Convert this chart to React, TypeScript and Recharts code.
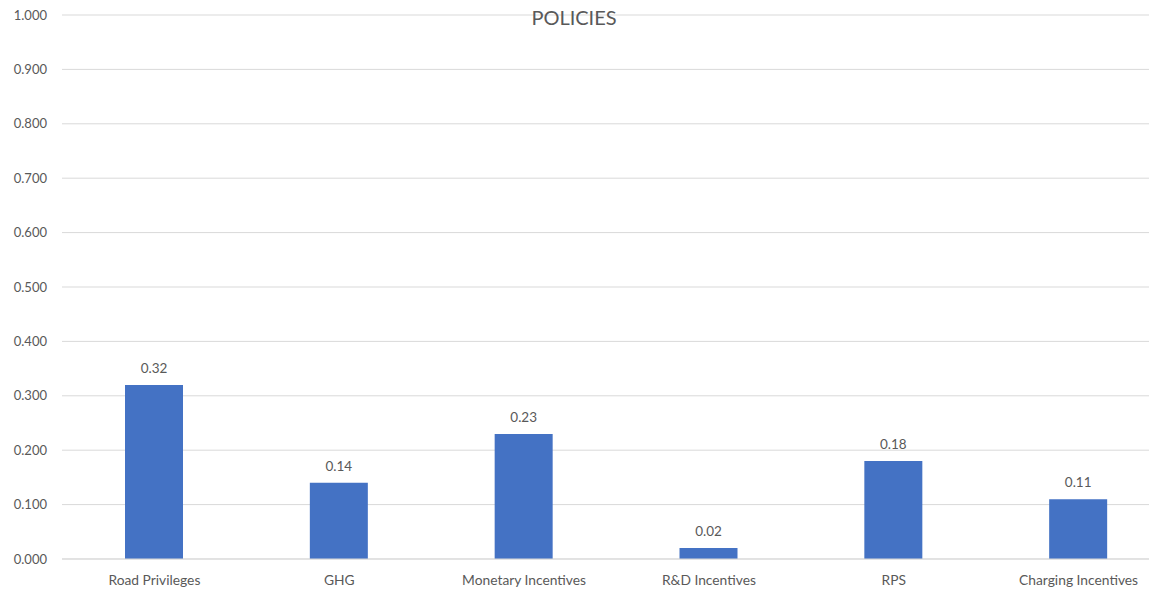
import { BarChart, Bar, XAxis, YAxis, CartesianGrid, LabelList } from 'recharts';

const policies = ['Road Privileges', 'GHG', 'Monetary Incentives', 'R&D Incentives', 'RPS', 'Charging Incentives'];
const scores = [0.32, 0.14, 0.23, 0.02, 0.18, 0.11];
const yTicks = [0, 0.1, 0.2, 0.3, 0.4, 0.5, 0.6, 0.7, 0.8, 0.9, 1.0];

const chartData = policies.map((name, i) => ({ name, value: scores[i] }));

const FONT = 'Lato, "Open Sans", sans-serif';
const TEXT = '#595959';

export default function App() {
  // plot area runs a little past the right edge, so clip it to the window
  return (
    <div style={{ position: 'fixed', left: 0, top: 0, width: 1149, height: 592, overflow: 'hidden', background: '#fff' }}>
      <BarChart
        width={1171}
        height={592}
        data={chartData}
        margin={{ top: 15, right: 0, left: 0, bottom: 5 }}
        barSize={58}
      >
        <CartesianGrid vertical={false} stroke="#d9d9d9" strokeWidth={1} />
        <XAxis
          dataKey="name"
          axisLine={{ stroke: '#d9d9d9' }}
          tickLine={false}
          tickMargin={10}
          height={28}
          interval={0}
          tick={{ fontSize: 13.8, fill: TEXT, fontFamily: FONT }}
        />
        <YAxis
          width={62}
          domain={[0, 1]}
          ticks={yTicks}
          axisLine={false}
          tickLine={false}
          tickMargin={9}
          tickFormatter={(v: number) => v.toFixed(3)}
          tick={{ fontSize: 13, fill: TEXT, fontFamily: FONT }}
        />
        <Bar dataKey="value" fill="#4472C4" isAnimationActive={false}>
          <LabelList
            dataKey="value"
            position="top"
            offset={12}
            formatter={(v: number) => v.toFixed(2)}
            style={{ fontSize: 13.5, fill: TEXT, fontFamily: FONT }}
          />
        </Bar>
        <text x={574} y={17} textAnchor="middle" dominantBaseline="central" fontSize={20} fill={TEXT} fontFamily={FONT}>
          POLICIES
        </text>
      </BarChart>
    </div>
  );
}
